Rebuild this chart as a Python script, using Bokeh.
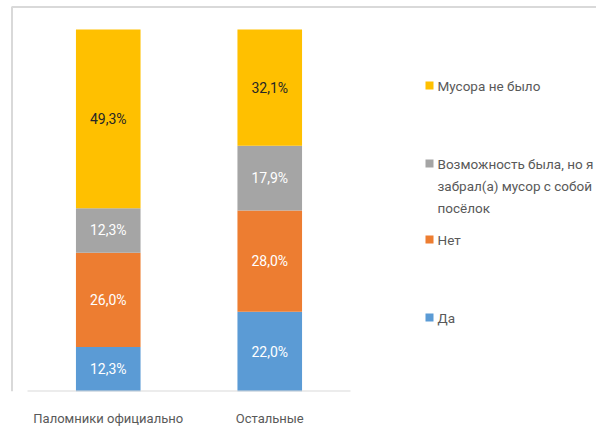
from bokeh.plotting import figure
from bokeh.models import ColumnDataSource, Range1d, FixedTicker
from bokeh.core.properties import value
from bokeh.embed import file_html
from bokeh.resources import INLINE

categories = ["Паломники официально", "Остальные"]
series = ["Да", "Нет", "Возможность была, но я забрал(а) мусор с собой в посёлок", "Мусора не было"]
legend_lines = {
    "Возможность была, но я забрал(а) мусор с собой в посёлок":
        ["Возможность была, но я", "забрал(а) мусор с собой", "посёлок"],
}
yes = [12.3, 22.0]
no = [26.0, 28.0]
possible = [12.3, 17.9]
no_trash = [49.3, 32.1]
values = [yes, no, possible, no_trash]
colors = ["#5B9BD5", "#ED7D31", "#A5A5A5", "#FFC000"]
label_colors = ["#FFFFFF", "#FFFFFF", "#FFFFFF", "#262626"]

FONT = "Roboto"
TEXT_GRAY = "#595959"

# ---- geometry (canvas pixels) ----
W, H = 596, 434
AX_LEFT, AX_RIGHT = 27, 350     # extent of the category axis
Y_BOTTOM, Y_TOP = 391, 29       # 0 % and 100 % lines
n = len(categories)
px_per_x = (AX_RIGHT - AX_LEFT) / n
px_per_y = (Y_BOTTOM - Y_TOP) / 100.0


def px_x(px):
    return (px - AX_LEFT) / px_per_x


def px_y(py):
    return (Y_BOTTOM - py) / px_per_y


# 100% stacked: normalise each category
totals = [sum(v[i] for v in values) for i in range(n)]
keys = ["s%d" % k for k in range(len(series))]
data = {"x": [i + 0.5 for i in range(n)]}
for k, v in zip(keys, values):
    data[k] = [v[i] / totals[i] * 100 for i in range(n)]
src = ColumnDataSource(data)

p = figure(x_range=Range1d(px_x(0), px_x(W)), y_range=Range1d(0, px_y(0)),
           width=W, height=H, output_backend="svg", toolbar_location=None,
           min_border_left=0, min_border_right=0, min_border_top=0,
           min_border_bottom=H - Y_BOTTOM, y_axis_location=None)
p.vbar_stack(keys, x="x", width=0.40, color=colors, line_color=None, source=src)

# data labels at segment centres
lx, ly, lt, lc = [], [], [], []
for i in range(n):
    base = 0.0
    for k, v in enumerate(values):
        h = data[keys[k]][i]
        lx.append(data["x"][i])
        ly.append(base + h / 2)
        lt.append(("%.1f%%" % v[i]).replace(".", ","))
        lc.append(label_colors[k])
        base += h
p.text(x=lx, y=ly, text=lt, text_color=lc, text_align="center", text_baseline="middle",
       text_font=value(FONT), text_font_size="14px")

# category axis
p.xaxis.ticker = FixedTicker(ticks=data["x"])
p.xaxis.major_label_overrides = {x: c for x, c in zip(data["x"], categories)}
p.xaxis.axis_line_color = None
p.xaxis.major_tick_line_color = None
p.xaxis.minor_tick_line_color = None
p.xaxis.major_label_text_color = TEXT_GRAY
p.xaxis.major_label_text_font = FONT
p.xaxis.major_label_text_font_size = "13px"
p.xaxis.major_label_standoff = 13
p.segment(x0=[0], y0=[0], x1=[n], y1=[0], line_color="#D9D9D9", line_width=2)

p.xgrid.grid_line_color = None
p.ygrid.grid_line_color = None
p.outline_line_color = None

# chart-area border (top and left)
p.line(x=[px_x(11.5), px_x(11.5), px_x(W)], y=[0, px_y(6.5), px_y(6.5)],
       line_color="#D9D9D9", line_width=2)

# legend
slot_py = [317, 239, 163, 85]
sq_x, sq_y, sq_c = [], [], []
tx, ty, tt = [], [], []
for s, py, col in zip(series, slot_py, colors):
    sq_x.append(px_x(429))
    sq_y.append(px_y(py))
    sq_c.append(col)
    lines = legend_lines.get(s, [s])
    for j, ln in enumerate(lines):
        tx.append(px_x(437))
        ty.append(px_y(py + j * 22))
        tt.append(ln)
p.scatter(x=sq_x, y=sq_y, marker="square", size=8, color=sq_c, line_color=None)
p.text(x=tx, y=ty, text=tt, text_color=TEXT_GRAY, text_align="left", text_baseline="middle",
       text_font=value(FONT), text_font_size="13.5px")

open("out.html", "w").write(file_html(p, INLINE))
